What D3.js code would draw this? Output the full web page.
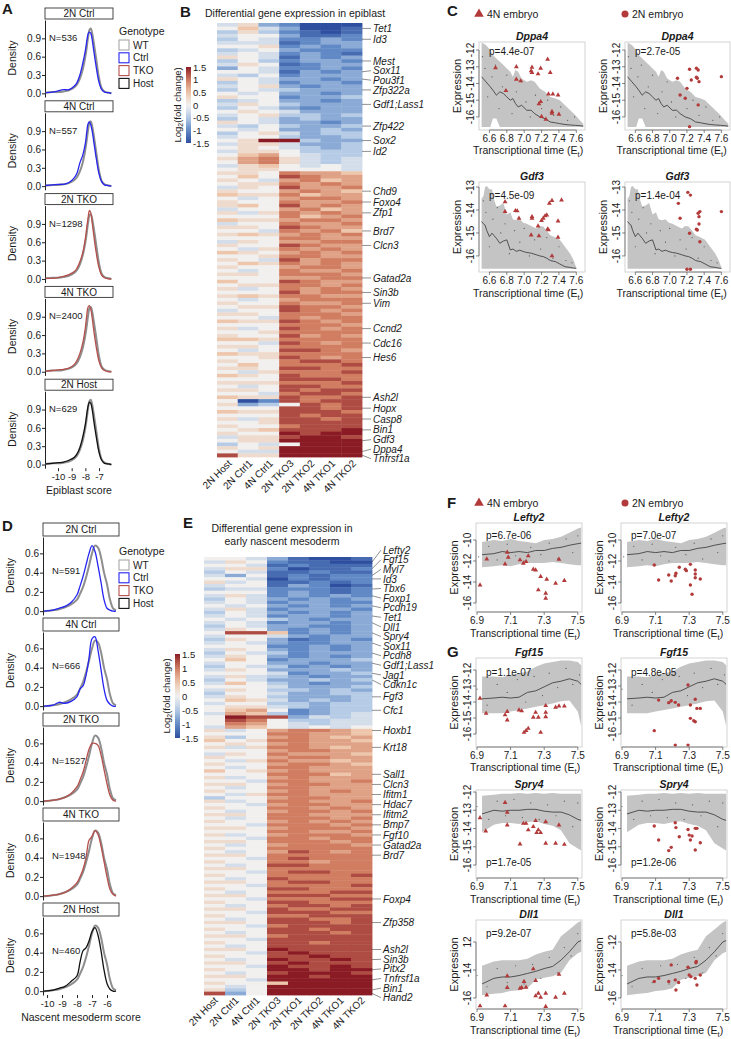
<!DOCTYPE html>
<meta charset="utf-8">
<script src="https://d3js.org/d3.v7.min.js"></script>
<style>
  body { margin: 0; background: #fff; }
  svg { font-family: "Liberation Sans", Arial, sans-serif; }
  text { fill: #1a1a1a; }
</style>
<div id="fig"></div>
<script>

// ---------------- data: density panels (A, D) ----------------
var genoNames = ["WT", "Ctrl", "TKO", "Host"];
var genoColors = ["#a8a8a8", "#2626f0", "#b5504c", "#111111"];
var facetNames = ["2N Ctrl", "4N Ctrl", "2N TKO", "4N TKO", "2N Host"];
var facetGeno = ["Ctrl", "Ctrl", "TKO", "TKO", "Host"];

var epiN = [536, 557, 1298, 2400, 629];
var epiX = [-10.9,-10.4,-10,-9.6,-9.2,-8.8,-8.6,-8.4,-8.2,-8.0,-7.9,-7.8,-7.7,-7.6,-7.5,-7.4,-7.2,-7.0,-6.8,-6.6,-6.3,-6.1];
var epiWT     = [0.01,0.02,0.02,0.03,0.05,0.10,0.15,0.24,0.38,0.60,0.75,0.92,1.04,1.06,0.98,0.85,0.55,0.25,0.08,0.03,0.01,0.0];
var epi2NCtrl = [0.01,0.02,0.04,0.06,0.06,0.12,0.18,0.30,0.48,0.70,0.85,0.97,1.00,0.98,0.88,0.72,0.42,0.18,0.06,0.02,0.01,0.0];
var epi4NCtrl = [0.01,0.02,0.03,0.03,0.06,0.14,0.22,0.38,0.50,0.70,0.88,1.02,1.05,1.00,0.90,0.75,0.45,0.20,0.07,0.02,0.01,0.0];
var epi2NTKO  = [0.01,0.01,0.02,0.04,0.07,0.12,0.18,0.28,0.42,0.66,0.84,1.00,1.12,1.08,0.92,0.74,0.42,0.18,0.06,0.02,0.0,0.0];
var epi4NTKO  = [0.01,0.02,0.03,0.04,0.06,0.12,0.19,0.30,0.46,0.72,0.92,1.06,1.08,1.02,0.88,0.70,0.40,0.17,0.06,0.02,0.0,0.0];
var epi2NHost = [0.01,0.02,0.03,0.04,0.07,0.12,0.18,0.28,0.44,0.66,0.82,0.96,1.02,1.00,0.90,0.74,0.45,0.20,0.07,0.02,0.01,0.0];

var mesN = [591, 666, 1527, 1948, 460];
var mesX = [-10.2,-9.6,-9.2,-8.8,-8.4,-8.0,-7.8,-7.6,-7.4,-7.2,-7.0,-6.8,-6.6,-6.4,-6.2,-6.0,-5.8,-5.6,-5.4];
var mesWT     = [0.0,0.01,0.02,0.04,0.07,0.12,0.18,0.25,0.35,0.47,0.60,0.68,0.66,0.56,0.40,0.28,0.12,0.03,0.01];
var mes2NCtrl = [0.0,0.01,0.03,0.05,0.09,0.17,0.26,0.36,0.48,0.60,0.68,0.62,0.47,0.30,0.12,0.03,0.01,0.0,0.0];
var mes4NCtrl = [0.0,0.01,0.04,0.03,0.05,0.10,0.18,0.21,0.32,0.50,0.70,0.72,0.58,0.38,0.18,0.06,0.02,0.0,0.0];
var mes2NTKO  = [0.0,0.01,0.02,0.04,0.08,0.15,0.22,0.30,0.42,0.54,0.60,0.60,0.58,0.48,0.33,0.18,0.06,0.01,0.0];
var mes4NTKO  = [0.0,0.01,0.02,0.04,0.08,0.14,0.20,0.28,0.40,0.58,0.62,0.68,0.64,0.52,0.36,0.20,0.07,0.02,0.0];
var mes2NHost = [0.0,0.01,0.03,0.05,0.10,0.16,0.30,0.42,0.45,0.52,0.62,0.66,0.58,0.42,0.22,0.08,0.02,0.0,0.0];

// ---------------- data: heatmaps (B, E) ----------------
// one string per gene row, one letter per sample: a=-1.5 ... g=0 ... m=1.5 (steps of 0.25)
var colsB = ["2N Host","2N Ctrl1","4N Ctrl1","2N TKO3","2N TKO2","4N TKO1","4N TKO2"];
var heatB = (
  "fhdcaaa gifdaab ehecbab fggdbbc egfccdc fffbcdd gghcdcd efgdccc fgfcdcb hgfbdcd " +
  "egecddc fhgbcdd dgfccdc ggfbdcd fegcddd hgfddcd egfcddc fghdcdd egfeddd gfgddcd " +
  "hggcdde efgddcd fhgeddd egfdcdd ghgfddd fgheede egfdedd hgfddcd fegedde gfgdded " +
  "eghfdee fggedde ghmmedd fhhfdde ghgfede fhhgeee gijgfee hjkhfef gjkhfef fhigfgf " +
  "ghhgggf hhgkjji giglkjj hgfjkij ghhkjkj fhgljjk hggjkji ihhkijj gfgjkkj hggkjjk " +
  "higljkj fggjkij hfhkjkj gggkijk ihhjkkj fggkjjk hhglkjj ggfkjki hihjkjk gggkkjj " +
  "fhgjjkk hgglkjj gfhkjkj ihgjkjk gghkkjj hgfljkk gihkjkj hggjkkj gfgkjjk hhgkkkj " +
  "gggjjkk igglkjj ghhkkjk hfgkjkj gggljkk hihkkjj gfgjkkk hggkjjk ghhlkkj fgglkjk " +
  "hhgkkkj ggfkjkk ihhlkjk gggkkkj hfglkjk gghkkkk hggljkj iihkkkk ggflkjk hhgkkkk " +
  "gfgllkj ihhkkkk gghlkjk hggkllk gigkkkl hhgllkk gfhkkkl ihglkkk ggglllk hhhkkkl " +
  "gfgllkk hhglkll ggfkllk ihhlkkl gaclkll hdeglkl gggllkl ihhlllk ggglkll hfhllkl " +
  "gghllll hggklll ghilllm hggmlmm fhhlmml ghhmmmm egfgmmm hghmmmm gffmmmm lhhmmmm"
).split(" ");
var genesB = [["Tet1",1],["Id3",4],["Mest",10],["Sox11",13],["Pou3f1",15],["Zfp322a",18],
  ["Gdf1;Lass1",22],["Zfp422",28],["Sox2",32],["Id2",35],["Chd9",46],["Foxo4",49],["Zfp1",52],
  ["Brd7",57],["Clcn3",61],["Gatad2a",70],["Sin3b",74],["Vim",77],["Ccnd2",84],["Cdc16",88],
  ["Hes6",92],["Ash2l",103],["Hopx",106],["Casp8",109],["Bin1",112],["Gdf3",115],["Dppa4",118],
  ["Tnfrsf1a",119]];

var colsE = ["2N Host","2N Ctrl1","4N Ctrl1","2N TKO3","2N TKO1","2N TKO2","4N TKO1","4N TKO2"];
var heatE = (
  "ggfdbaab fhgcbbaa ggfbcbbb fhhcabbc egfbbcbb fdgbcbcc ggfacbcc hfgbbcbc fggbdcab effcccbc " +
  "gggcdcbc fhfcdcdc egfdcdcd fgfcddcc gfgdcdcd fhfcdddc egfdcdcd fgfcddcd gfgedcdd fgfcddcd " +
  "egfddccd fhgdcdcd gllicdcd fggfdcdd ehgdbcdc fgfdccdd gggccdcd fhgdcdcd egfecddd fhgdcdcd " +
  "gigcddde fggddcdd egfecdcd fhgddded gggfcdde fhfedcdd egfddede figedcdd gggfddde fhgeeded " +
  "eggfddee fhgeddde gihfdede fggeedee ghhfedee gijgcdee fjiecdef gmlldfef glkgeeff gkjgfeff " +
  "fjigfgfg hfgjkkji gggkkjji hegjkjij ighkkjji ghgjkjjj hfhkkjij gggjkkjj fhgkjjji hggjkkjj " +
  "gfhkjjij hggjkkji gfgkkjjj ighjkjjj gggkkkij hfgjkjjj ggfkkjjk hhgjkkjj gfgkkjjj hggjkjkj " +
  "gfhkkjjj eggjkkjj hfgkkjjk ggfjkkjj hggkkjkj gfgjkkjk hhgkkjjj gfgkkkjk hggjkjkj ggfkkkjk " +
  "hhgjkkkj gggkkjjk hfgjkkkj ggfkkjkk hhgkkkjk gfgjkkkj hggkkkkk gfgjlkjk hhgkkkkk ggfklkkk " +
  "hggkkjkk gfgllkkk hhgkkkkk ggfkllkk hggkkkkl gfglkkkk hhgkllkk ggfkkkkl hggllkkk gfgkkkll " +
  "hhglllkk ggfkkkll hggllkkk gfgkllkl hhglkkll ggflllkk hggkklll gfgllkkl hhglllkl ggfkllll " +
  "hggllkll gfglllkl hhgkllll ggflllll hggllkll gfglllll hhgmllll ggflmlll hggllmll gfgmllml " +
  "hhglmlll ggfmllml hggmmlmm gfglmmml hhgmmlmm ggfmmmmm hggimmmm gfgmmmmm hegmmmmm ldgmmmmm"
).split(" ");
var genesE = [["Lefty2",1],["Fgf15",3],["Myl7",5],["Id3",6],["Tbx6",9],["Foxp1",11],["Pcdh19",14],
  ["Tet1",17],["Dll1",19],["Spry4",22],["Sox11",25],["Pcdh8",28],["Gdf1;Lass1",31],["Jag1",34],
  ["Cdkn1c",36],["Fgf3",41],["Cfc1",45],["Hoxb1",51],["Krt18",56],["Sall1",64],["Clcn3",67],
  ["Ifitm1",70],["Hdac7",73],["Ifitm2",76],["Bmp7",79],["Fgf10",82],["Gatad2a",85],["Brd7",88],
  ["Foxp4",101],["Zfp358",108],["Ash2l",116],["Sin3b",119],["Pitx2",122],["Tnfrsf1a",125],
  ["Bin1",128],["Hand2",129]];
var scaleTicks = [1.5, 1, 0.5, 0, -0.5, -1, -1.5];

// ---------------- data: transcriptional time panels (C, F, G) ----------------
var dppa4T   = [6.51,6.56,6.61,6.64,6.68,6.72,6.76,6.80,6.84,6.87,6.90,6.93,6.97,7.03,7.08,7.12,7.18,7.24,7.30,7.36,7.41,7.47,7.53,7.59,7.64,7.68];
var dppa4Up  = [-11.55,-11.7,-12.0,-12.3,-12.5,-12.7,-12.9,-13.1,-13.3,-13.6,-13.2,-13.3,-13.7,-13.9,-13.8,-13.9,-14.3,-14.5,-14.8,-14.9,-15.0,-15.3,-15.6,-15.9,-16.2,-16.4];
var dppa4Mid = [-13.6,-13.9,-14.2,-14.4,-14.7,-14.5,-14.6,-14.8,-15.0,-14.9,-15.2,-15.4,-15.3,-15.6,-15.6,-15.8,-16.0,-16.1,-16.3,-16.35,-16.4,-16.45,-16.48,-16.5,-16.52,-16.55];
var dppa4Lo  = [-16.6,-16.6,-16.6,-16.1,-16.1,-16.6,-16.6,-16.6,-16.6,-16.6,-16.6,-16.6,-16.6,-16.6,-16.6,-16.6,-16.6,-16.6,-16.6,-16.6,-16.6,-16.6,-16.6,-16.6,-16.6,-16.6];
var dppa4Bg  = [[6.52,-12.4],[6.55,-13.1],[6.58,-14.8],[6.63,-13.6],[6.67,-12.9],[6.71,-15.5],[6.75,-14.2],[6.8,-13.5],[6.86,-15.8],[6.91,-14.5],[6.97,-13.9],[7.02,-15.1],[7.07,-16.0],[7.13,-14.7],[7.2,-15.5],[7.27,-15.0],[7.34,-15.9],[7.42,-15.4],[7.5,-16.2],[7.58,-16.0]];
var dppa4Tri = [[6.67,-13.06],[6.79,-14.43],[6.91,-13.0],[6.91,-13.75],[6.96,-13.85],[7.09,-13.03],[7.08,-13.25],[7.09,-13.35],[7.16,-13.43],[7.19,-13.09],[7.27,-12.56],[7.30,-13.35],[7.19,-15.09],[7.17,-15.22],[7.28,-14.63],[7.33,-14.63],[7.39,-14.69],[7.32,-15.68],[7.32,-15.78],[7.20,-15.98],[7.25,-16.14],[7.40,-15.84]];
var dppa4Dot = [[7.09,-13.69],[7.12,-14.69],[7.18,-14.88],[7.23,-13.15],[7.25,-13.79],[7.31,-13.09],[7.33,-13.19],[7.32,-13.69],[7.34,-13.89],[7.31,-13.63],[7.20,-14.29],[7.33,-15.28],[7.23,-16.58],[7.60,-13.59]];

var gdf3T   = [6.51,6.53,6.55,6.57,6.60,6.63,6.65,6.68,6.72,6.76,6.80,6.84,6.87,6.91,6.95,6.99,7.03,7.08,7.14,7.18,7.22,7.26,7.30,7.36,7.41,7.47,7.53,7.57,7.60];
var gdf3Up  = [-13.5,-13.4,-13.0,-12.95,-13.1,-13.1,-13.5,-13.85,-13.8,-13.7,-14.2,-14.1,-14.4,-14.45,-14.4,-14.55,-14.6,-14.7,-14.8,-14.7,-14.72,-14.9,-15.1,-15.2,-15.3,-15.6,-15.9,-16.2,-16.5];
var gdf3Mid = [-14.5,-14.6,-14.66,-14.9,-15.16,-15.01,-15.1,-15.23,-15.45,-15.35,-15.3,-15.74,-15.7,-15.8,-15.75,-15.81,-15.85,-15.88,-15.95,-16.0,-16.03,-16.1,-16.2,-16.25,-16.35,-16.47,-16.5,-16.53,-16.54];
var gdf3Lo  = [-16.56,-16.56,-16.56,-16.56,-16.56,-16.56,-16.56,-16.56,-16.56,-16.56,-16.56,-16.56,-16.56,-16.56,-16.56,-16.56,-16.56,-16.56,-16.56,-16.56,-16.56,-16.56,-16.56,-16.56,-16.56,-16.56,-16.56,-16.56,-16.56];
var gdf3Bg  = [[6.53,-13.6],[6.56,-14.1],[6.6,-15.6],[6.64,-14.4],[6.69,-13.9],[6.73,-15.0],[6.78,-14.6],[6.83,-15.9],[6.89,-14.9],[6.95,-15.4],[7.0,-14.8],[7.06,-16.0],[7.12,-15.3],[7.19,-15.7],[7.26,-15.2],[7.33,-16.1],[7.4,-15.6],[7.48,-16.2],[7.55,-16.3]];
var gdf3Tri = [[6.78,-13.64],[6.78,-14.07],[6.90,-14.03],[6.92,-14.04],[6.94,-14.36],[7.09,-14.29],[7.09,-14.36],[7.08,-15.09],[7.16,-14.70],[7.17,-15.13],[7.20,-14.46],[7.22,-14.36],[7.24,-14.26],[7.29,-13.71],[7.32,-13.59],[7.27,-14.83],[7.28,-14.87],[7.39,-14.48],[7.39,-15.19],[7.43,-13.57],[7.32,-16.0],[7.26,-14.22]];
var gdf3Dot = [[7.10,-13.71],[7.12,-14.36],[7.21,-13.23],[7.24,-13.35],[7.23,-15.01],[7.31,-14.84],[7.32,-14.87],[7.34,-14.29],[7.33,-14.14],[7.35,-14.07],[7.34,-14.61],[7.35,-15.38],[7.20,-16.58],[7.24,-16.58],[7.60,-14.07]];

var fgT = [6.93,7.0,7.05,7.1,7.15,7.2,7.25,7.3,7.35,7.4,7.45,7.5,7.52];
var lefty2Up  = [-10.2,-10.0,-10.1,-9.9,-10.1,-10.2,-10.3,-10.0,-9.9,-9.7,-9.3,-8.9,-8.8];
var lefty2Mid = [-11.4,-11.3,-11.1,-11.2,-11.1,-11.2,-11.0,-11.0,-10.8,-10.7,-10.5,-10.35,-10.3];
var lefty2Lo  = [-12.6,-12.5,-12.4,-12.5,-12.3,-12.2,-12.2,-12.2,-12.1,-12.2,-12.3,-12.4,-12.4];
var lefty2Bg  = [[6.91,-11.6],[6.97,-10.6],[7.02,-11.9],[7.08,-10.4],[7.13,-11.5],[7.18,-12.0],[7.22,-10.7],[7.28,-11.4],[7.33,-10.3],[7.38,-11.8],[7.43,-9.9],[7.47,-11.2],[7.5,-9.6]];
var lefty2Tri = [[6.918,-14.29],[6.958,-11.81],[7.067,-12.29],[7.080,-11.17],[7.086,-11.65],[7.156,-11.90],[7.176,-12.22],[7.205,-11.52],[7.192,-12.06],[7.235,-12.79],[7.249,-12.86],[7.279,-13.49],[7.265,-14.76],[7.315,-13.74],[7.309,-15.08],[7.309,-15.56],[7.368,-14.13],[7.388,-11.84],[7.420,-13.87]];
var lefty2Dot = [[7.092,-12.38],[7.118,-13.81],[7.178,-13.33],[7.193,-13.90],[7.217,-13.40],[7.221,-13.17],[7.241,-12.60],[7.277,-12.79],[7.283,-12.92],[7.307,-12.32],[7.307,-14.29],[7.317,-15.17],[7.336,-12.86],[7.336,-13.24],[7.336,-13.59],[7.366,-13.71]];

var fgf15Up  = [-12.4,-12.4,-12.45,-12.3,-12.2,-12.1,-11.8,-11.6,-11.5,-11.4,-11.4,-11.5,-11.7];
var fgf15Mid = [-13.8,-13.75,-13.7,-13.75,-13.7,-13.4,-13.3,-13.05,-12.8,-12.7,-12.55,-12.7,-12.9];
var fgf15Lo  = [-14.7,-14.7,-14.7,-14.6,-14.5,-14.4,-14.3,-14.2,-14.1,-13.95,-13.9,-14.6,-15.5];
var fgf15Bg  = [[6.9,-13.2],[6.96,-14.2],[7.02,-12.9],[7.08,-13.4],[7.14,-12.6],[7.19,-14.0],[7.24,-12.4],[7.29,-13.6],[7.33,-12.2],[7.38,-13.1],[7.43,-11.9],[7.47,-12.9],[7.51,-12.3]];
var fgf15Tri = [[6.918,-13.77],[6.954,-14.71],[7.067,-14.81],[7.080,-14.60],[7.080,-15.13],[7.150,-14.5],[7.166,-14.56],[7.180,-15.9],[7.192,-15.79],[7.205,-15.65],[7.235,-14.96],[7.249,-14.65],[7.265,-14.96],[7.279,-15.9],[7.309,-14.23],[7.309,-14.65],[7.309,-14.92],[7.368,-14.33],[7.388,-14.25],[7.42,-14.25]];
var fgf15Dot = [[7.092,-15.79],[7.118,-13.88],[7.178,-14.04],[7.193,-13.92],[7.217,-14.02],[7.237,-14.19],[7.293,-12.94],[7.307,-14.19],[7.307,-15.02],[7.327,-15.17],[7.336,-15.23],[7.336,-13.83],[7.346,-14.40],[7.366,-14.40],[7.217,-16.69],[7.293,-16.69]];

var spry4Up  = [-12.2,-12.15,-12.1,-12.1,-12.05,-12.1,-12.05,-12.1,-12.05,-12.1,-12.1,-12.1,-12.1];
var spry4Mid = [-13.2,-13.0,-13.05,-13.0,-13.0,-12.95,-12.95,-13.05,-13.1,-13.1,-13.25,-13.5,-13.55];
var spry4Lo  = [-14.2,-13.8,-13.7,-13.7,-13.75,-13.65,-13.6,-13.75,-13.85,-14.1,-14.8,-15.1,-15.2];
var spry4Bg  = [[6.9,-12.8],[6.97,-13.5],[7.02,-12.5],[7.07,-13.3],[7.12,-12.4],[7.17,-13.4],[7.22,-12.6],[7.27,-13.5],[7.32,-12.7],[7.37,-13.3],[7.42,-12.5],[7.47,-13.9],[7.5,-12.6]];
var spry4Tri = [[6.918,-13.41],[6.952,-14.14],[7.067,-12.58],[7.080,-13.11],[7.080,-13.81],[7.156,-14.85],[7.176,-13.72],[7.192,-13.72],[7.205,-14.08],[7.235,-13.90],[7.249,-13.57],[7.255,-14.23],[7.265,-14.08],[7.279,-14.23],[7.309,-13.63],[7.309,-14.81],[7.368,-14.81],[7.388,-13.81],[7.42,-14.87]];
var spry4Dot = [[7.092,-13.86],[7.118,-14.63],[7.178,-15.21],[7.193,-15.03],[7.217,-13.68],[7.221,-13.95],[7.241,-14.45],[7.293,-14.05],[7.300,-14.36],[7.307,-14.63],[7.317,-14.41],[7.336,-13.99],[7.346,-13.99],[7.336,-15.18],[7.366,-14.78]];

var dll1Up  = [-13.7,-13.4,-13.3,-13.3,-13.3,-13.2,-12.9,-12.7,-12.55,-11.6,-11.1,-10.6,-10.5];
var dll1Mid = [-15.0,-14.6,-14.5,-14.5,-14.4,-14.25,-14.1,-13.9,-13.75,-13.3,-12.7,-12.0,-11.9];
var dll1Lo  = [-15.8,-15.7,-15.65,-15.5,-15.45,-15.3,-14.7,-14.55,-14.45,-14.2,-13.3,-12.8,-12.7];
var dll1Bg  = [[6.9,-14.4],[6.96,-15.2],[7.02,-13.9],[7.08,-14.9],[7.13,-13.7],[7.18,-15.0],[7.23,-13.6],[7.28,-14.6],[7.33,-13.1],[7.38,-14.2],[7.42,-12.4],[7.46,-13.0],[7.5,-11.4]];
var dll1Tri = [[6.918,-16.57],[6.958,-15.79],[7.067,-16.57],[7.080,-14.43],[7.080,-15.26],[7.156,-15.31],[7.166,-15.26],[7.180,-14.83],[7.192,-15.24],[7.235,-13.93],[7.249,-14.76],[7.249,-15.86],[7.265,-15.67],[7.279,-15.95],[7.309,-16.62],[7.309,-15.67],[7.368,-15.95],[7.388,-14.31],[7.42,-15.67]];
var dll1Dot = [[7.092,-14.83],[7.118,-14.60],[7.178,-14.83],[7.193,-13.64],[7.217,-14.71],[7.221,-15.43],[7.237,-14.90],[7.293,-13.81],[7.300,-14.36],[7.310,-14.48],[7.336,-14.60],[7.340,-13.48],[7.342,-13.40],[7.346,-15.07],[7.366,-14.36]];

var pValues = {
  Dppa4: ["p=4.4e-07", "p=2.7e-05"], Gdf3: ["p=4.5e-09", "p=1.4e-04"],
  Lefty2: ["p=6.7e-06", "p=7.0e-07"], Fgf15: ["p=1.1e-07", "p=4.8e-05"],
  Spry4: ["p=1.7e-05", "p=1.2e-06"], Dll1: ["p=9.2e-07", "p=5.8e-03"]
};

// ---------------- drawing ----------------
var svg = d3.select("#fig").append("svg")
  .attr("width", 731).attr("height", 1039);

var red = "#b23a3a";

function panelLabel(s, x, y) {
  svg.append("text").attr("x", x).attr("y", y)
    .attr("font-size", 15).attr("font-weight", "bold").text(s);
}

// -------- density facets --------
function densityPanel(o) {
  var x = d3.scaleLinear().domain(o.xDomain).range([o.x0, o.x1]);
  o.facets.forEach(function(name, i) {
    var top = o.tops[i];
    var y = d3.scaleLinear().domain(o.yDomain).range([top + o.plotBottom, top + o.stripH + 1]);

    svg.append("rect")
      .attr("x", o.x0).attr("y", top).attr("width", o.x1 - o.x0).attr("height", o.stripH)
      .attr("fill", "#fff").attr("stroke", "#333").attr("stroke-width", 0.9);
    svg.append("text")
      .attr("x", (o.x0 + o.x1) / 2).attr("y", top + o.stripH / 2 + 3.6)
      .attr("text-anchor", "middle").attr("font-size", 10).text(name);

    var ya = svg.append("g").attr("transform", "translate(" + o.x0 + ",0)")
      .call(d3.axisLeft(y).tickValues(o.yTicks).tickFormat(d3.format(".1f")).tickSize(3).tickSizeOuter(0));
    ya.select(".domain").attr("stroke", "#222");
    ya.selectAll(".tick line").attr("stroke", "#222");
    ya.selectAll(".tick text").attr("font-size", 10).attr("fill", "#222").attr("x", -4)
      .attr("font-family", "Liberation Sans, Arial, sans-serif");

    svg.append("text")
      .attr("transform", "translate(" + (o.x0 - 29) + "," + (top + (o.stripH + o.plotBottom) / 2) + ") rotate(-90)")
      .attr("text-anchor", "middle").attr("font-size", 10.5).text("Density");

    var line = d3.line()
      .x(function(d, k) { return x(o.xs[k]); })
      .y(function(d) { return y(d); })
      .curve(d3.curveCatmullRom);

    svg.append("path").datum(o.wt).attr("d", line)
      .attr("fill", "none").attr("stroke", "#8e8e8e").attr("stroke-width", 2);
    svg.append("path").datum(o.series[i]).attr("d", line)
      .attr("fill", "none").attr("stroke", genoColors[genoNames.indexOf(facetGeno[i])]).attr("stroke-width", 1.3);

    svg.append("text").attr("x", o.x0 + o.nDx).attr("y", top + o.nDy)
      .attr("font-size", 9.5).text("N=" + o.n[i]);

    if (i === o.facets.length - 1) {
      var xa = svg.append("g").attr("transform", "translate(0," + (top + o.plotBottom) + ")")
        .call(d3.axisBottom(x).tickValues(o.xTicks).tickFormat(function(d) { return String(d); })
          .tickSize(3).tickSizeOuter(0));
      xa.select(".domain").remove();
      xa.selectAll(".tick line").attr("stroke", "#222");
      xa.selectAll(".tick text").attr("font-size", 9.5).attr("fill", "#222").attr("y", 5)
        .attr("font-family", "Liberation Sans, Arial, sans-serif");
      svg.append("text").attr("x", (o.x0 + o.x1) / 2).attr("y", top + o.plotBottom + 26)
        .attr("text-anchor", "middle").attr("font-size", 10.5).text(o.xTitle);
    }
  });

  // legend
  svg.append("text").attr("x", o.legX).attr("y", o.legY).attr("font-size", 10.5).text("Genotype");
  genoNames.forEach(function(g, k) {
    var cy = o.legY + 10 + k * 12.8;
    svg.append("rect").attr("x", o.legX).attr("y", cy - 5).attr("width", 10).attr("height", 10)
      .attr("fill", "#fff").attr("stroke", genoColors[k]).attr("stroke-width", 1.1);
    svg.append("text").attr("x", o.legX + 14).attr("y", cy + 3.6).attr("font-size", 10).text(g);
  });
}

densityPanel({
  facets: facetNames, n: epiN, xs: epiX, wt: epiWT,
  series: [epi2NCtrl, epi4NCtrl, epi2NTKO, epi4NTKO, epi2NHost],
  x0: 45, x1: 113, xDomain: [-10.95, -5.98], xTicks: [-10, -9, -8, -7],
  tops: [8, 100.8, 193.6, 286.4, 379.2], stripH: 11, plotBottom: 89,
  yDomain: [-0.06, 1.2], yTicks: [0, 0.3, 0.6, 0.9],
  nDx: 4, nDy: 33, xTitle: "Epiblast score", legX: 119, legY: 35
});

densityPanel({
  facets: facetNames, n: mesN, xs: mesX, wt: mesWT,
  series: [mes2NCtrl, mes4NCtrl, mes2NTKO, mes4NTKO, mes2NHost],
  x0: 43, x1: 119, xDomain: [-10.27, -5.2], xTicks: [-10, -9, -8, -7, -6],
  tops: [523, 618, 713, 808, 903], stripH: 13, plotBottom: 92,
  yDomain: [-0.04, 0.77], yTicks: [0, 0.2, 0.4, 0.6],
  nDx: 9, nDy: 51, xTitle: "Nascent mesoderm score", legX: 119, legY: 555
});

panelLabel("A", 2, 14);
panelLabel("D", 2, 531);

// -------- heatmaps --------
var heatColor = d3.scaleLinear()
  .domain([-1.5, -1, -0.5, 0, 0.5, 1, 1.5])
  .range(["#2e4f9f", "#6089c5", "#b6cce6", "#f1f0ef", "#edc6ab", "#d17d61", "#8a1b24"])
  .clamp(true);
var codes = "abcdefghijklm";
function codeVal(c) { return (codes.indexOf(c) - 6) * 0.25; }

function spread(targets, gap) {
  var ys = targets.slice();
  for (var it = 0; it < 400; it++) {
    for (var i = 1; i < ys.length; i++) {
      var d = ys[i] - ys[i - 1];
      if (d < gap) { var m = (gap - d) / 2; ys[i - 1] -= m; ys[i] += m; }
    }
  }
  return ys;
}

function heatmap(o) {
  var x = d3.scaleBand().domain(d3.range(o.cols.length)).range([o.x0, o.x1]);
  var y = d3.scaleBand().domain(d3.range(o.rows.length)).range([o.y0, o.y1]);
  var g = svg.append("g");
  o.rows.forEach(function(r, i) {
    r.split("").forEach(function(c, j) {
      g.append("rect").attr("x", x(j)).attr("y", y(i))
        .attr("width", x.bandwidth() + 0.4).attr("height", y.bandwidth() + 0.4)
        .attr("fill", heatColor(codeVal(c)));
    });
  });

  // column labels
  o.cols.forEach(function(c, j) {
    var cx = x(j) + x.bandwidth() / 2 + o.labDx, cy = o.y1 + o.labDy;
    svg.append("text").attr("transform", "translate(" + cx + "," + cy + ") rotate(-45)")
      .attr("text-anchor", "end").attr("font-size", 10).text(c);
  });

  // gene labels with leader lines
  var targets = o.genes.map(function(gn) { return y(gn[1]) + y.bandwidth() / 2; });
  var ys = spread(targets, o.gap);
  o.genes.forEach(function(gn, k) {
    svg.append("line").attr("x1", o.x1).attr("y1", targets[k])
      .attr("x2", o.x1 + 9).attr("y2", ys[k]).attr("stroke", "#444").attr("stroke-width", 0.6);
    svg.append("text").attr("x", o.x1 + 11).attr("y", ys[k] + 3.6)
      .attr("font-size", 10).attr("font-style", "italic").text(gn[0]);
  });

  // colour bar
  var gid = "grad" + o.id;
  var grad = svg.append("defs").append("linearGradient").attr("id", gid)
    .attr("x1", 0).attr("y1", 1).attr("x2", 0).attr("y2", 0);
  d3.range(0, 1.0001, 0.1).forEach(function(t) {
    grad.append("stop").attr("offset", t).attr("stop-color", heatColor(-1.5 + 3 * t));
  });
  svg.append("rect").attr("x", o.barX).attr("y", o.barY0).attr("width", 5)
    .attr("height", o.barY1 - o.barY0).attr("fill", "url(#" + gid + ")");
  var by = d3.scaleLinear().domain([-1.5, 1.5]).range([o.barY1, o.barY0]);
  scaleTicks.forEach(function(t) {
    svg.append("text").attr("x", o.barX + 7).attr("y", by(t) + 3.6)
      .attr("font-size", 9.5).text(t);
  });
  var lt = svg.append("text")
    .attr("transform", "translate(" + (o.barX - 5) + "," + ((o.barY0 + o.barY1) / 2) + ") rotate(-90)")
    .attr("text-anchor", "middle").attr("font-size", 9.5);
  lt.append("tspan").text("Log");
  lt.append("tspan").attr("font-size", 7).attr("dy", 2).text("2");
  lt.append("tspan").attr("dy", -2).text("(fold change)");
}

heatmap({
  id: "B", cols: colsB, rows: heatB, genes: genesB, gap: 9.5,
  x0: 217, x1: 362, y0: 23, y1: 457, labDx: 5, labDy: 7,
  barX: 186, barY0: 67, barY1: 143
});
heatmap({
  id: "E", cols: colsE, rows: heatE, genes: genesE, gap: 9.6,
  x0: 204, x1: 372, y0: 557, y1: 995, labDx: 4, labDy: 6,
  barX: 175, barY0: 654, barY1: 738
});

panelLabel("B", 180, 17);
svg.append("text").attr("x", 205).attr("y", 17).attr("font-size", 10.5)
  .text("Differential gene expression in epiblast");
panelLabel("E", 183, 528);
svg.append("text").attr("x", 282).attr("y", 532).attr("text-anchor", "middle").attr("font-size", 10.5)
  .text("Differential gene expression in");
svg.append("text").attr("x", 282).attr("y", 545).attr("text-anchor", "middle").attr("font-size", 10.5)
  .text("early nascent mesoderm");

// -------- transcriptional time plots --------
var triSym = d3.symbol().type(d3.symbolTriangle).size(10);

function timePlot(o) {
  var x = d3.scaleLinear().domain(o.xd).range([o.x0, o.x1]);
  var y = d3.scaleLinear().domain(o.yd).range([o.y1, o.y0]);
  var idx = d3.range(o.t.length);

  svg.append("path").datum(idx)
    .attr("d", d3.area().x(function(i) { return x(o.t[i]); })
      .y0(function(i) { return y(o.lo[i]); }).y1(function(i) { return y(o.up[i]); }))
    .attr("fill", "#c4c4c4");
  svg.selectAll(null).data(o.bg).enter().append("circle")
    .attr("cx", function(d) { return x(d[0]); }).attr("cy", function(d) { return y(d[1]); })
    .attr("r", 0.6).attr("fill", "#555");
  svg.append("path").datum(idx)
    .attr("d", d3.line().x(function(i) { return x(o.t[i]); }).y(function(i) { return y(o.mid[i]); }))
    .attr("fill", "none").attr("stroke", "#333").attr("stroke-width", 0.8);

  if (o.shape === "tri") {
    svg.selectAll(null).data(o.pts).enter().append("path")
      .attr("d", triSym)
      .attr("transform", function(d) { return "translate(" + x(d[0]) + "," + y(d[1]) + ")"; })
      .attr("fill", red);
  } else {
    svg.selectAll(null).data(o.pts).enter().append("circle")
      .attr("cx", function(d) { return x(d[0]); }).attr("cy", function(d) { return y(d[1]); })
      .attr("r", 1.7).attr("fill", red);
  }

  svg.append("rect").attr("x", o.x0).attr("y", o.y0)
    .attr("width", o.x1 - o.x0).attr("height", o.y1 - o.y0)
    .attr("fill", "none").attr("stroke", "#c8c8c8").attr("stroke-width", 0.8);

  // y axis (R style: rotated labels, line over tick range)
  var yt = o.yt;
  svg.append("line").attr("x1", o.x0).attr("x2", o.x0)
    .attr("y1", y(d3.min(yt))).attr("y2", y(d3.max(yt))).attr("stroke", "#555").attr("stroke-width", 0.7);
  yt.forEach(function(t) {
    svg.append("line").attr("x1", o.x0 - 3).attr("x2", o.x0).attr("y1", y(t)).attr("y2", y(t))
      .attr("stroke", "#555").attr("stroke-width", 0.7);
    svg.append("text")
      .attr("transform", "translate(" + (o.x0 - 5) + "," + y(t) + ") rotate(-90)")
      .attr("text-anchor", "middle").attr("font-size", 10).text(o.yFmt ? o.yFmt(t) : t);
  });
  // x axis
  var xt = o.xt;
  svg.append("line").attr("y1", o.y1).attr("y2", o.y1)
    .attr("x1", x(d3.min(xt))).attr("x2", x(d3.max(xt))).attr("stroke", "#555").attr("stroke-width", 0.7);
  xt.forEach(function(t) {
    svg.append("line").attr("x1", x(t)).attr("x2", x(t)).attr("y1", o.y1).attr("y2", o.y1 + 3)
      .attr("stroke", "#555").attr("stroke-width", 0.7);
    svg.append("text").attr("x", x(t)).attr("y", o.y1 + 12)
      .attr("text-anchor", "middle").attr("font-size", 10).text(d3.format(".1f")(t));
  });

  var xl = svg.append("text").attr("x", (o.x0 + o.x1) / 2 - o.titleShift).attr("y", o.y1 + o.titleDy)
    .attr("text-anchor", "middle").attr("font-size", 10.5);
  xl.append("tspan").text("Transcriptional time (E");
  xl.append("tspan").attr("font-size", 7.5).attr("dy", 2.5).text("t");
  xl.append("tspan").attr("dy", -2.5).text(")");

  svg.append("text")
    .attr("transform", "translate(" + (o.x0 - 18) + "," + ((o.y0 + o.y1) / 2) + ") rotate(-90)")
    .attr("text-anchor", "middle").attr("font-size", 11).text("Expression");

  svg.append("text").attr("x", (o.x0 + o.x1) / 2).attr("y", o.y0 - 2.5)
    .attr("text-anchor", "middle").attr("font-size", 10.5)
    .attr("font-weight", "bold").attr("font-style", "italic").text(o.gene);

  svg.append("text").attr("x", o.x0 + 10).attr("y", o.y0 + o.pdy)
    .attr("font-size", 10).text(o.p);
}

var cX = [6.48, 7.70], fgXd = [6.894, 7.525];
var cTicks = [6.6, 6.8, 7.0, 7.2, 7.4, 7.6], fgTicks = [6.9, 7.1, 7.3, 7.5];
var leftC = [479, 585], rightC = [625, 730];
var leftF = [476, 582], rightF = [621, 727];

var rowsTP = [
  { gene: "Dppa4", y0: 42, y1: 130, yd: [-16.78, -11.52], yt: [-16, -15, -14, -13, -12], pdy: 13, tdy: 24,
    t: dppa4T, up: dppa4Up, mid: dppa4Mid, lo: dppa4Lo, bg: dppa4Bg, tri: dppa4Tri, dot: dppa4Dot, c: true },
  { gene: "Gdf3", y0: 182, y1: 272, yd: [-16.7, -12.78], yt: [-16, -15, -14, -13], pdy: 17, tdy: 25,
    t: gdf3T, up: gdf3Up, mid: gdf3Mid, lo: gdf3Lo, bg: gdf3Bg, tri: gdf3Tri, dot: gdf3Dot, c: true },
  { gene: "Lefty2", y0: 523, y1: 612, yd: [-16.86, -8.38], yt: [-16, -14, -12, -10], pdy: 16, tdy: 25,
    t: fgT, up: lefty2Up, mid: lefty2Mid, lo: lefty2Lo, bg: lefty2Bg, tri: lefty2Tri, dot: lefty2Dot },
  { gene: "Fgf15", y0: 658, y1: 747, yd: [-16.81, -11.25], yt: [-16, -15, -14, -13, -12], pdy: 18, tdy: 24,
    t: fgT, up: fgf15Up, mid: fgf15Mid, lo: fgf15Lo, bg: fgf15Bg, tri: fgf15Tri, dot: fgf15Dot },
  { gene: "Spry4", y0: 790, y1: 878, yd: [-16.71, -11.89], yt: [-16, -15, -14, -13, -12], pdy: 76, tdy: 25,
    t: fgT, up: spry4Up, mid: spry4Mid, lo: spry4Lo, bg: spry4Bg, tri: spry4Tri, dot: spry4Dot },
  { gene: "Dll1", y0: 920, y1: 1009, yd: [-16.79, -10.43], yt: [-16, -14, -12], pdy: 17, tdy: 25,
    t: fgT, up: dll1Up, mid: dll1Mid, lo: dll1Lo, bg: dll1Bg, tri: dll1Tri, dot: dll1Dot,
    leftFmt: function(v) { return v === -12 ? "12" : v; } }
];

rowsTP.forEach(function(r) {
  var L = r.c ? leftC : leftF, R = r.c ? rightC : rightF;
  var base = { gene: r.gene, y0: r.y0, y1: r.y1, yd: r.yd, yt: r.yt, pdy: r.pdy, titleDy: r.tdy,
    t: r.t, up: r.up, mid: r.mid, lo: r.lo, bg: r.bg,
    xd: r.c ? cX : fgXd, xt: r.c ? cTicks : fgTicks };
  timePlot(Object.assign({}, base, { x0: L[0], x1: L[1], pts: r.tri, shape: "tri",
    p: pValues[r.gene][0], yFmt: r.leftFmt, titleShift: 4 }));
  timePlot(Object.assign({}, base, { x0: R[0], x1: R[1], pts: r.dot, shape: "dot",
    p: pValues[r.gene][1], titleShift: 6 }));
});

function embryoLegend(y) {
  svg.append("path").attr("d", d3.symbol().type(d3.symbolTriangle).size(40))
    .attr("transform", "translate(479," + y + ")").attr("fill", red);
  svg.append("text").attr("x", 487).attr("y", y + 4).attr("font-size", 10.5).text("4N embryo");
  svg.append("circle").attr("cx", 625).attr("cy", y).attr("r", 3.5).attr("fill", red);
  svg.append("text").attr("x", 632).attr("y", y + 4).attr("font-size", 10.5).text("2N embryo");
}
embryoLegend(14);
embryoLegend(503);

panelLabel("C", 447, 16);
panelLabel("F", 447, 508);
panelLabel("G", 447, 657);

</script>
